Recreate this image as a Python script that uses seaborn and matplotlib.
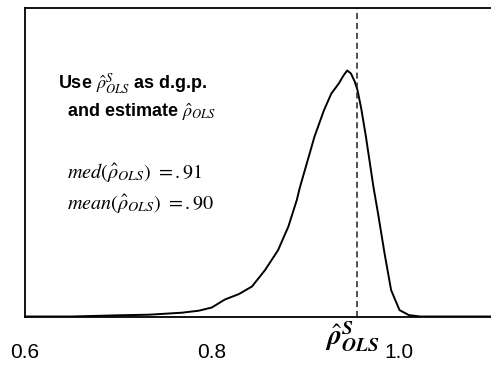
import matplotlib
matplotlib.use("Agg")
import matplotlib.pyplot as plt
import seaborn as sns
import pandas as pd

# Density curve
rho_x = [0.60, 0.65, 0.70, 0.733, 0.768, 0.786, 0.800, 0.814, 0.829, 0.843,
         0.857, 0.871, 0.882, 0.891, 0.894, 0.910, 0.920, 0.928, 0.936, 0.941,
         0.945, 0.949, 0.953, 0.956, 0.960, 0.965, 0.973, 0.978, 0.985, 0.992,
         1.001, 1.011, 1.023, 1.05, 1.10]
density = [0.0, 0.0, 0.06, 0.09, 0.19, 0.29, 0.45, 0.85, 1.12, 1.50,
           2.32, 3.32, 4.50, 5.82, 6.40, 9.00, 10.30, 11.15, 11.65, 12.05,
           12.30, 12.15, 11.75, 11.32, 10.40, 9.00, 6.50, 5.15, 3.15, 1.32,
           0.32, 0.07, 0.0, 0.0, 0.0]
rho_s = 0.956
major_ticks = [0.6, 0.8, 1.0]
major_labels = ["0.6", "0.8", "1.0"]
minor_ticks = [0.7, 0.9]

df = pd.DataFrame({"rho": rho_x, "density": density})

sns.set_style("white")
plt.rcParams["mathtext.fontset"] = "stix"
plt.rcParams["font.family"] = ["Liberation Sans", "DejaVu Sans"]
plt.rcParams["text.color"] = "black"

fig = plt.figure(figsize=(4.91, 3.65), dpi=100)
ax = fig.add_axes([25 / 491, (365 - 316.5) / 365, 1 - 25 / 491 + 0.002, 308.5 / 365])

sns.lineplot(data=df, x="rho", y="density", ax=ax, color="black", lw=1.4, sort=False)
ax.axvline(rho_s, color="#222222", lw=1.1, ls=(0, (4, 2.5)))

ax.set_xlim(0.6, 1.1)
ax.set_ylim(0, 308.5 / 20)
ax.set_xticks(major_ticks)
ax.set_xticklabels(major_labels)
ax.set_xticks(minor_ticks, minor=True)
ax.set_yticks([])
ax.set_xlabel("")
ax.set_ylabel("")
ax.tick_params(axis="x", which="both", direction="in", length=4, width=1, color="black",
               pad=19, labelsize=15, labelcolor="black")
for s in ["left", "top", "bottom"]:
    ax.spines[s].set_visible(True)
    ax.spines[s].set_color("black")
    ax.spines[s].set_linewidth(1.3)
ax.spines["right"].set_visible(False)

narrow = ["Liberation Sans Narrow", "Liberation Sans", "DejaVu Sans"]


def ptext(x, y, s, **kw):
    fig.text(x / 491, 1 - y / 365, s, color="black", **kw)


ptext(58, 84, r"Use $\hat{\rho}^{S}_{OLS}$ as d.g.p.", fontsize=13, fontweight="bold",
      family=narrow, va="center", ha="left")
ptext(67, 112, r"and estimate $\hat{\rho}_{OLS}$", fontsize=13, fontweight="bold",
      family=narrow, va="center", ha="left")
ptext(67, 173, r"$med(\hat{\rho}_{OLS})\ =.91$", fontsize=14.5, va="center", ha="left")
ptext(67, 204, r"$mean(\hat{\rho}_{OLS})\ =.90$", fontsize=14.5, va="center", ha="left")
ptext(352, 337, r"$\hat{\mathbfit{\rho}}^{\mathbfit{S}}_{\mathbfit{OLS}}$", fontsize=20,
      va="center", ha="center")

fig.savefig("out.png", dpi=100)
